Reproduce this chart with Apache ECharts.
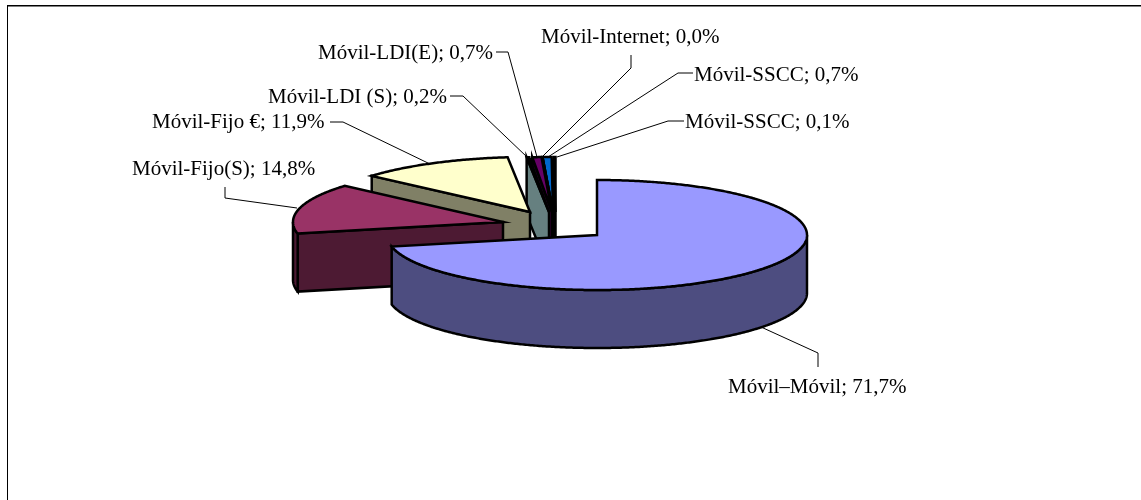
<!DOCTYPE html>
<html>
<head>
<meta charset="utf-8">
<title>Móvil</title>
<style>
  html, body { margin: 0; padding: 0; background: #fff; }
  #main { width: 1141px; height: 500px; }
</style>
<script src="https://cdn.jsdelivr.net/npm/echarts@6/dist/echarts.min.js"></script>
</head>
<body>
<div id="main"></div>
<script>
// datos del gráfico
var categories = ["Móvil–Móvil", "Móvil-Fijo(S)", "Móvil-Fijo €", "Móvil-LDI (S)", "Móvil-LDI(E)", "Móvil-Internet", "Móvil-SSCC", "Móvil-SSCC"];
var values = [71.7, 14.8, 11.9, 0.2, 0.7, 0.0, 0.7, 0.1];

// colores de Excel: cara superior y pared lateral
var topColors = ["#9999ff", "#993366", "#ffffcc", "#ccffff", "#660066", "#ff8080", "#0066cc", "#ccccff"];
var sideColors = ["#4d4d80", "#4d1a33", "#808066", "#668080", "#330033", "#804040", "#003366", "#666680"];

// desplazamiento de cada porción respecto al centro (explosión)
var sliceShiftX = [0, -94, -67, -48, -45, -44, -44, -41.5];
var sliceShiftY = [0, -13, -23, -23, -23, -23, -23, -23];
// orden de dibujo, de atrás hacia delante
var drawRank = [7, 6, 5, 4, 3, 2, 1, 0];

// etiquetas y líneas guía
var labelX = [728, 132, 152, 268, 318, 541, 694, 685];
var labelY = [387, 169, 122, 97, 53, 37, 75, 122];
var leaders = [
  [[761, 327], [818, 353], [818, 367]],
  [[225, 187], [225, 198], [297, 208]],
  [[330, 122], [343, 122], [430, 164]],
  [[450, 96], [463, 96], [527, 157]],
  [[496, 52], [508, 52], [537, 157]],
  [[631, 55], [631, 68], [542, 157]],
  [[693, 73], [678, 73], [548, 157]],
  [[684, 121], [668, 121], [557, 157]]
];

var centerX = 597, centerY = 235, radiusX = 210, radiusY = 55, depth = 58;
var outline = 2.5;
var total = values.reduce(function (a, b) { return a + b; }, 0);

function formatValue(v) {
  return v.toFixed(1).replace(".", ",") + "%";
}

// ángulo en grados, en sentido horario desde el norte
function rimPoint(cx, cy, deg) {
  var r = deg * Math.PI / 180;
  return [cx + radiusX * Math.sin(r), cy - radiusY * Math.cos(r)];
}

function arcPoints(cx, cy, from, to) {
  var pts = [];
  var steps = Math.max(1, Math.ceil((to - from) * 2));
  for (var i = 0; i <= steps; i++) {
    pts.push(rimPoint(cx, cy, from + (to - from) * i / steps));
  }
  return pts;
}

function down(p) {
  return [p[0], p[1] + depth];
}

function face(points, fill, z2) {
  return {
    type: "polygon",
    shape: { points: points },
    z2: z2,
    style: { fill: fill, stroke: "#000", lineWidth: outline, lineJoin: "miter" }
  };
}

function renderSlice(params, api) {
  var i = params.dataIndex;
  var start = 0;
  for (var k = 0; k < i; k++) start += values[k] / total * 360;
  var end = start + api.value(0) / total * 360;

  var cx = centerX + sliceShiftX[i];
  var cy = centerY + sliceShiftY[i];
  var apex = [cx, cy];
  var z = drawRank[i] * 10 + 10;
  var children = [];

  // pared radial del inicio, visible si mira hacia el frente
  if (start > 180) {
    var p = rimPoint(cx, cy, start);
    children.push(face([apex, p, down(p), down(apex)], sideColors[i], z));
  }
  // pared radial del final
  if (end < 180 && end > 0) {
    var q = rimPoint(cx, cy, end);
    children.push(face([apex, q, down(q), down(apex)], sideColors[i], z));
  }
  // pared exterior, solo la mitad delantera
  var wallFrom = Math.max(start, 90), wallTo = Math.min(end, 270);
  if (wallTo > wallFrom) {
    var rim = arcPoints(cx, cy, wallFrom, wallTo);
    children.push(face(rim.concat(rim.map(down).reverse()), sideColors[i], z + 1));
  }
  // cara superior
  children.push(face([apex].concat(arcPoints(cx, cy, start, end)), topColors[i], z + 2));

  // línea guía y etiqueta
  children.push({
    type: "polyline",
    shape: { points: leaders[i] },
    z2: 200,
    style: { fill: null, stroke: "#000", lineWidth: 1 }
  });
  children.push({
    type: "text",
    x: labelX[i],
    y: labelY[i],
    z2: 201,
    style: {
      text: categories[i] + "; " + formatValue(api.value(0)),
      fill: "#000",
      font: '21px "Liberation Serif", "Times New Roman", serif',
      align: "left",
      verticalAlign: "middle"
    }
  });
  return { type: "group", children: children };
}

var myChart = echarts.init(document.getElementById("main"), null, { renderer: "canvas" });
myChart.setOption({
  backgroundColor: "#fff",
  animation: false,
  // marco del gráfico
  graphic: [
    { type: "line", shape: { x1: 7.5, y1: 5, x2: 7.5, y2: 500 }, style: { stroke: "#000", lineWidth: 1 }, silent: true },
    { type: "line", shape: { x1: 7, y1: 5.75, x2: 1141, y2: 5.75 }, style: { stroke: "#000", lineWidth: 1.5 }, silent: true }
  ],
  series: [{
    type: "custom",
    coordinateSystem: "none",
    silent: true,
    renderItem: renderSlice,
    data: values.map(function (v) { return [v]; })
  }]
});
</script>
</body>
</html>
